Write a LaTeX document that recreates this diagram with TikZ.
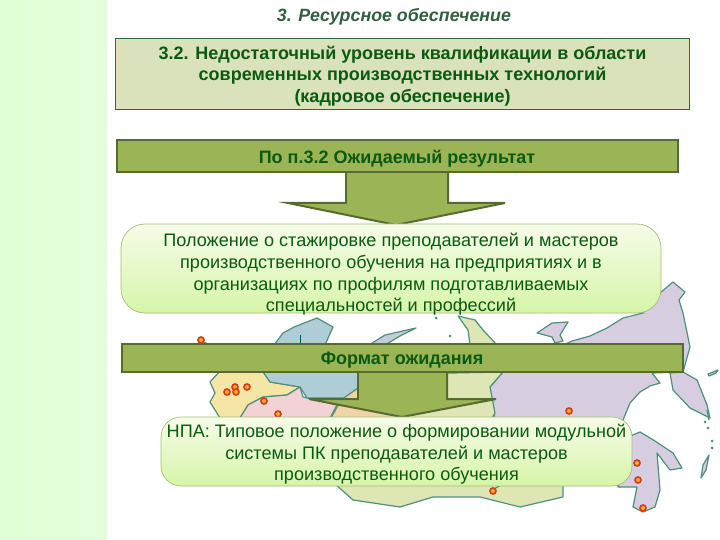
\documentclass[tikz,border=0pt]{standalone}
\usepackage{fontspec}
\setmainfont{Liberation Sans}
\definecolor{txt}{HTML}{0B5A12}
\definecolor{titletxt}{HTML}{2F5F3F}
\definecolor{coast}{HTML}{4F8F7C}
\definecolor{lilac}{HTML}{D6CEE0}
\definecolor{pale}{HTML}{DDE6B4}
\definecolor{sand}{HTML}{F5E6A6}
\definecolor{rose}{HTML}{F3D2D6}
\definecolor{sea}{HTML}{AECDD6}
\definecolor{peach}{HTML}{F1D3A8}
\definecolor{barfill}{HTML}{9BB556}
\definecolor{barline}{HTML}{566B30}
\definecolor{topbox}{HTML}{D9E2BB}
\definecolor{topline}{HTML}{2F6B3A}
\definecolor{strip}{HTML}{E0FFD6}
\definecolor{softtop}{HTML}{F6FCE8}
\definecolor{softbot}{HTML}{D6F5A8}
\definecolor{softline}{HTML}{A6BC78}
\definecolor{cityring}{HTML}{D2401A}
\definecolor{cityfill}{HTML}{F2B030}
\tikzset{
 land/.style={draw=coast,line width=1.2pt,line join=round},
 city/.style={circle,draw=cityring,fill=cityfill,line width=1.7pt,minimum size=6pt,inner sep=0pt},
 topbox/.style={draw=topline,fill=topbox,line width=.8pt,inner sep=0pt,align=center,text=txt,font=\fontsize{18}{21.5}\selectfont\bfseries},
 barbox/.style={draw=barline,fill=barfill,line width=2pt,inner sep=0pt,align=center,text=txt,font=\fontsize{18}{20}\selectfont\bfseries},
 softbox/.style={draw=softline,top color=softtop,bottom color=softbot,line width=.7pt,rounded corners=24pt,inner sep=0pt,align=center,text=txt,font=\fontsize{18.1}{21.9}\selectfont},
 blockarrow/.style={fill=barfill,draw=barline,line width=2pt,line join=miter},
}
\begin{document}
\begin{tikzpicture}[x=1pt,y=-1pt]
\useasboundingbox (0,0) rectangle (720,540);
\fill[white] (0,0) rectangle (720,540);
\shade[left color=strip,right color=strip!85!white] (0,0) rectangle (107,540);
% map
\fill[land,fill=lilac] (563,345)--(572,341)--(590,336)--(607,328)--(623,318)--(643,313)--(660,293)--(673,282)--(685,292)--(679,300)--(683,313)--(690,347)--(683,372)--(652,373)--(660,383)--(650,386)--(640,392)--(630,403)--(623,420)--(632,440)--(620,487)--(495,420)--(490,387)--(503,372)--(563,372)--cycle;
\fill[land,fill=lilac] (670,373)--(683,372)--(697,380)--(707,405)--(710,418)--(690,408)--(673,390)--cycle;
\fill[land,fill=lilac] (630,436)--(640,432)--(655,441)--(673,453)--(682,468)--(670,470)--(657,453)--(660,490)--(655,507)--(643,512)--(633,507)--(637,487)--(618,487)--cycle;
\fill[land,fill=lilac] (537,333)--(552,323)--(568,322)--(560,335)--(563,341)--(555,343)--(552,337)--cycle;
\fill[land,fill=pale] (335,484)--(353,500)--(400,507)--(433,497)--(480,497)--(520,507)--(563,497)--(563,484)--cycle;
\draw[land] (490,491)--(505,483);
\fill[land,fill=sand] (221,370)--(210,382)--(215,393)--(210,402)--(220,418)--(240,418)--(248,405)--(263,397)--(287,395)--(300,387)--(270,382)--(263,370)--cycle;
\fill[land,fill=rose] (240,418)--(248,405)--(263,397)--(287,395)--(300,387)--(303,397)--(337,405)--(330,418)--cycle;
\fill[land,fill=sea] (263,372)--(270,382)--(300,387)--(307,398)--(358,398)--(358,372)--cycle;
\fill[land,fill=sea] (274,345)--(283,333)--(294,327)--(317,318)--(333,327)--(325,345)--cycle;
\draw[teal!70!black,line width=1pt] (300,345)--(300,335);
\fill[land,fill=peach] (331,418)--(341,400)--(358,388)--(400,388)--(420,418)--cycle;
\fill[land,fill=pale] (400,374)--(503,372)--(490,387)--(495,413)--(492,418)--(400,418)--cycle;
\fill[land,fill=sea!50!lilac] (369,345)--(385,335)--(416,328)--(400,336)--(385,345)--cycle;
\fill[land,fill=pale] (458,316)--(475,320)--(483,330)--(497,345)--(470,345)--(468,330)--cycle;
\fill[land,fill=lilac] (708,374)--(718,370)--(716,373)--(709,376)--cycle;
\fill[land,fill=lilac] (701,478)--(703,465)--(709,455)--(706,470)--cycle;
\foreach \cx/\cy in {436/318,450/336,712/441,712/448,708/428,705/422}{\fill[coast] (\cx,\cy) circle (1.5pt);}
\draw[coast,line width=1.2pt] (707,410)--(709,420);
\draw[coast,line width=1.2pt] (203,342)--(209,344);
\node[city] (c1) at (201,340) {};
\node[city] (c2) at (235,387) {};
\node[city] (c3) at (247,387) {};
\node[city] (c4) at (227,392) {};
\node[city] (c5) at (236,392) {};
\node[city] (c6) at (264,401) {};
\node[city] (c7) at (278,414) {};
\node[city] (c8) at (569,411) {};
\node[city] (c9) at (637,463) {};
\node[city] (c10) at (638,480) {};
\node[city] (c11) at (643,508) {};
\node[city] (c12) at (493,491) {};
% title
\node[text=titletxt,font=\fontsize{17.8}{20}\selectfont\bfseries\itshape] (title) at (394,16.5) {3. Ресурсное обеспечение};
% top box
\node[topbox,minimum width=574pt,minimum height=71pt] (problem) at (402.5,73.5) {\rule{0pt}{18pt}3.2. Недостаточный уровень квалификации в области\\современных производственных технологий\\(кадровое обеспечение)};
% first arrow
\draw[blockarrow] (346,172)--(346,203)--(288,203)--(396,225)--(505,203)--(448,203)--(448,172);
\fill[barfill] (347,170) rectangle (447,204);
\node[barbox,minimum width=561pt,minimum height=32pt] (result) at (397,156.5) {\rule{0pt}{18pt}По п.3.2 Ожидаемый результат};
\node[softbox,inner ysep=-4pt,minimum width=540pt,minimum height=89pt] (statement) at (391,268.5) {\rule{0pt}{25pt}Положение о стажировке преподавателей и мастеров\\производственного обучения на предприятиях и в\\организациях по профилям подготавливаемых\\специальностей и профессий};
% second arrow
\draw[blockarrow] (358,371)--(358,399)--(309,399)--(402,417)--(496,399)--(447,399)--(447,371);
\fill[barfill] (359,369) rectangle (446,400);
\node[barbox,minimum width=561pt,minimum height=28pt] (format) at (402,358) {\rule{0pt}{17pt}Формат ожидания};
\node[softbox,rounded corners=20pt,minimum width=471pt,minimum height=69pt,font=\fontsize{18.1}{21.2}\selectfont] (npa) at (396.5,451.5) {\rule{0pt}{19pt}НПА: Типовое положение о формировании модульной\\системы ПК преподавателей и мастеров\\производственного обучения};
\end{tikzpicture}
\end{document}
